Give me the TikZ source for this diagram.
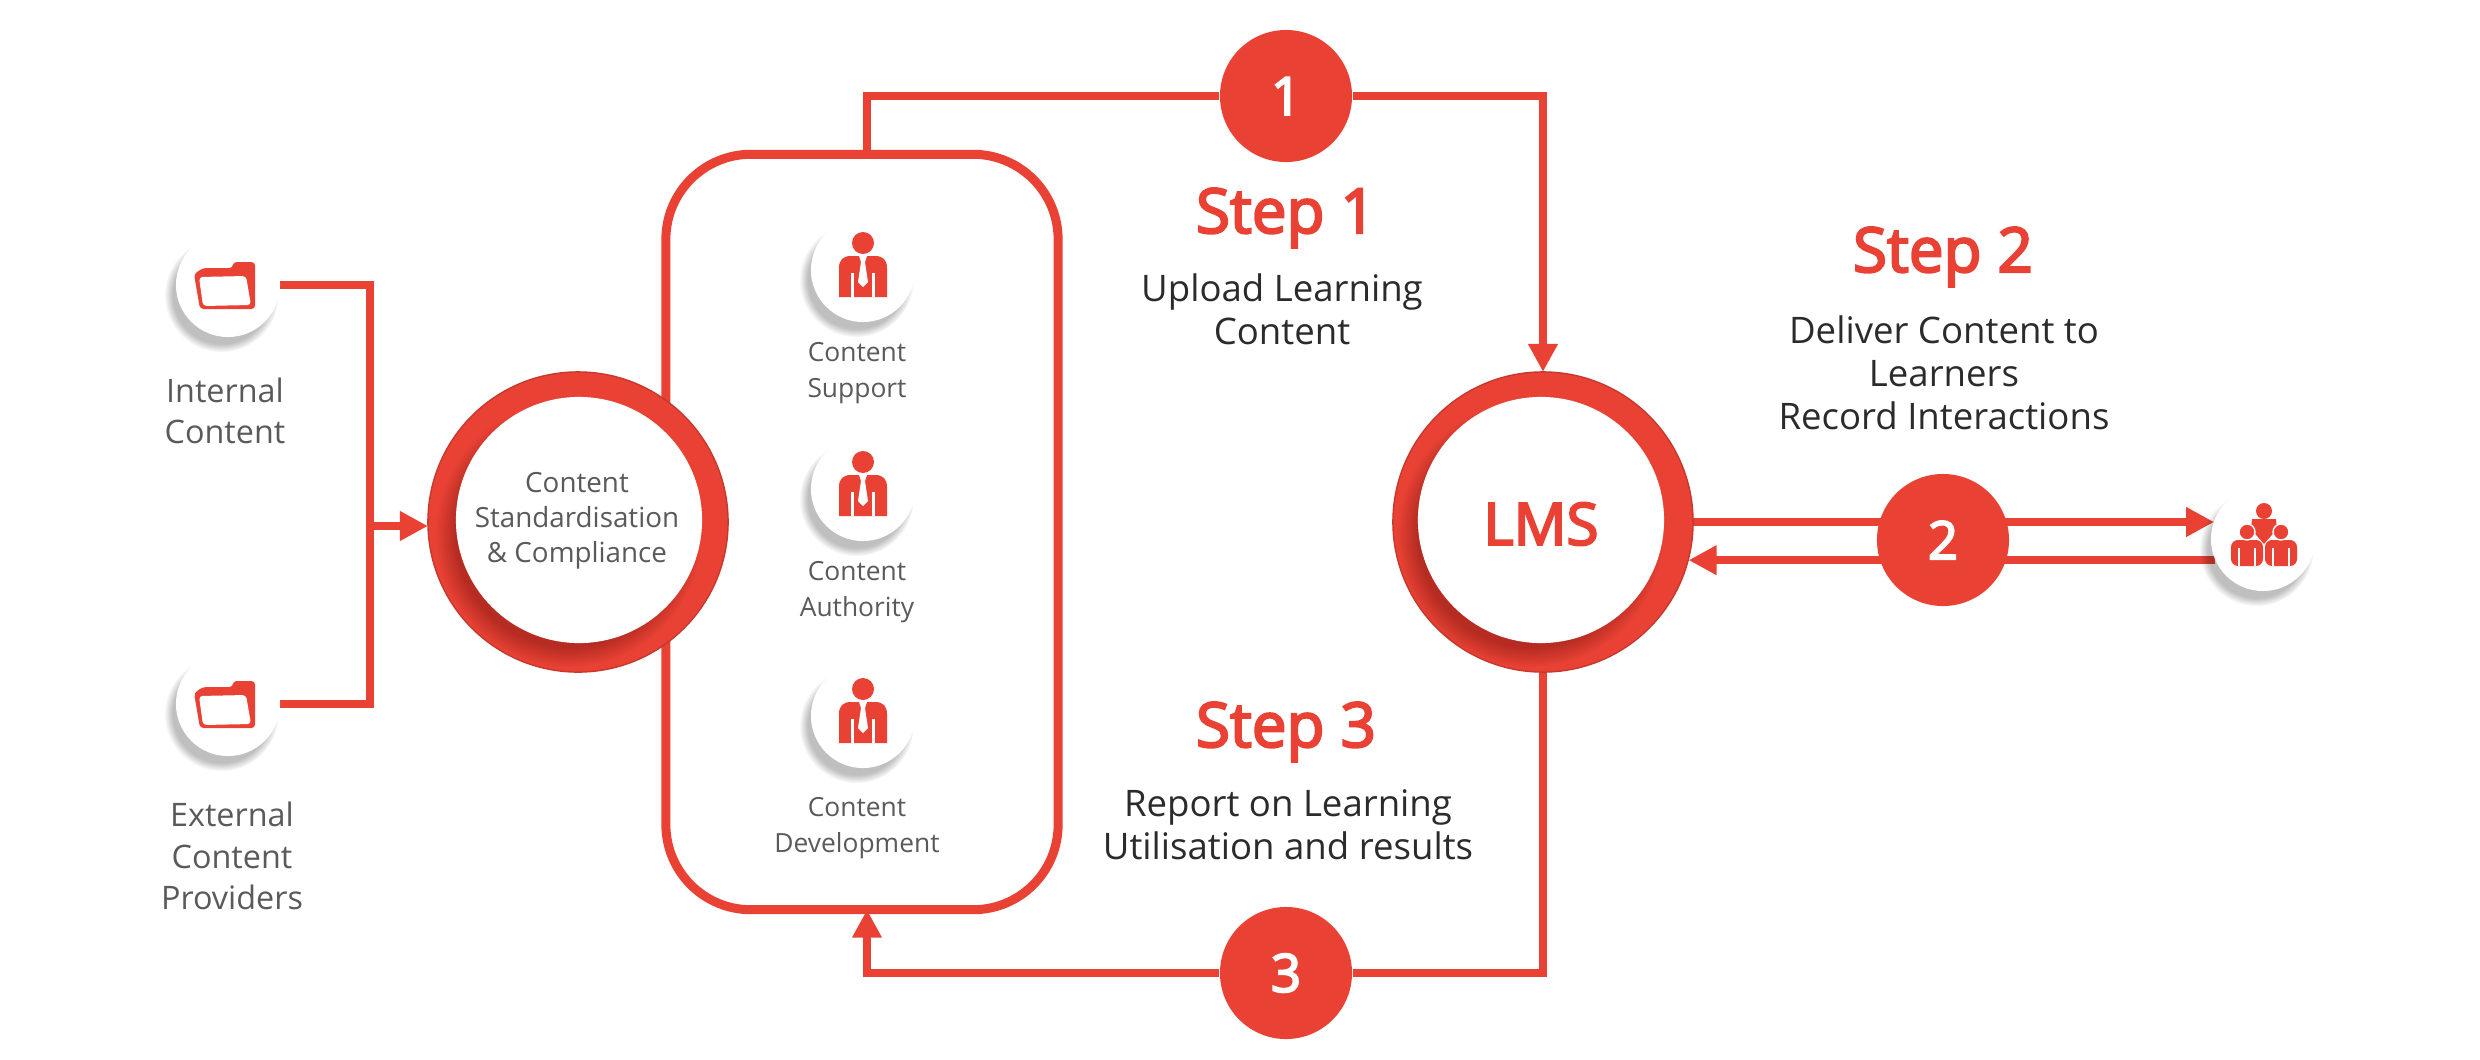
\documentclass[tikz,border=0pt]{standalone}
\usepackage{fontspec}
\setmainfont{Open Sans}
\newfontfamily\semifont[FakeBold=3.5]{Open Sans}
\usepackage{xcolor}
\usetikzlibrary{arrows.meta,positioning,shapes,calc,shadows,backgrounds}
\definecolor{lmsred}{HTML}{E94235}
\definecolor{deepred}{HTML}{A3241B}
\definecolor{softink}{HTML}{5A5A5A}
\definecolor{bodyink}{HTML}{2B2B2B}
\tikzset{
  flowline/.style={draw=lmsred,line width=0.085cm},
  flowarr/.style={flowline,-{Triangle[length=0.28cm,width=0.28cm]}},
  hubring/.style={circle,fill=lmsred,draw=lmsred!85!black,line width=0.4pt,
                  minimum size=3cm,inner sep=0pt,outer sep=0pt},
  hubface/.style={circle,fill=white,minimum size=2.46cm,inner sep=0pt,align=center,
                  circular drop shadow={shadow xshift=-0.1cm,shadow yshift=-0.13cm,
                                        shadow scale=1.08,fill=deepred,opacity=0.7}},
  iconface/.style={circle,fill=white,minimum size=1.04cm,inner sep=0pt,outer sep=0pt,
                   circular drop shadow={shadow xshift=-0.06cm,shadow yshift=-0.09cm,
                                         shadow scale=1.1,fill=black,opacity=0.25}},
  stepbadge/.style={circle,fill=lmsred,minimum size=1.32cm,inner sep=0pt,text=white,
                    font=\fontsize{15}{15}\semifont},
  steptitle/.style={text=lmsred,font=\fontsize{17.6}{20}\semifont},
  stepnote/.style={text=bodyink,align=center,font=\fontsize{10.4}{12.3}\selectfont},
  sidenote/.style={text=softink,align=center,font=\fontsize{9.2}{11.7}\selectfont},
  rolenote/.style={text=softink,align=center,font=\fontsize{7.5}{10.2}\selectfont},
  pics/foldericon/.style={code={
    \fill[lmsred,rounded corners=1pt] (-34,11)--(-25,17)--(5,17)--(5,23)--(27,23)--(27,-24)--(-28,-24)--cycle;
    \fill[white,rounded corners=1pt] (-29,8)--(18,9)--(23,-20)--(-25,-21)--cycle;
  }},
  pics/personicon/.style={code={
    \fill[lmsred] (0,27) circle (11);
    \fill[lmsred] (-24,-27)--(-24,2) .. controls (-24,10) and (-20,14) .. (-12,14)
      --(12,14) .. controls (20,14) and (24,10) .. (24,2)--(24,-27)--cycle;
    \fill[white] (-12,-27) rectangle (-9,-3);
    \fill[white] (9,-27) rectangle (12,-3);
    \fill[white] (-4,14)--(4,14)--(2,8)--(5,-12)--(0,-17)--(-5,-12)--(-2,8)--cycle;
  }},
  pics/groupicon/.style={code={
    \fill[lmsred] (1,28) circle (8);
    \fill[lmsred] (-11,20)--(13,20)--(14,10)--(1,-5)--(-12,10)--cycle;
    \fill[lmsred,rounded corners=2pt] (-32,-27)--(-32,-1)--(0,-1)--(0,-27)--cycle;
    \fill[lmsred,rounded corners=2pt] (2,-27)--(2,-1)--(34,-1)--(34,-27)--cycle;
    \fill[lmsred,draw=white,line width=0.4pt] (-16,7) circle (8);
    \fill[lmsred,draw=white,line width=0.4pt] (18,7) circle (8);
    \fill[white] (-25,-27) rectangle (-23,-9);
    \fill[white] (-9,-27) rectangle (-7,-9);
    \fill[white] (9,-27) rectangle (11,-9);
    \fill[white] (25,-27) rectangle (27,-9);
  }}
}
\begin{document}
\begin{tikzpicture}[x=0.01cm,y=0.01cm]
  \useasboundingbox (0,0) rectangle (2480,-1060);
  % roles box
  \node[draw=lmsred,line width=0.09cm,rounded corners=0.85cm,minimum width=3.92cm,
        minimum height=7.55cm,inner sep=0pt,outer sep=0pt] (rolebox) at (862,-532) {};
  \foreach \tag/\ypos/\noty/\lab in {support/270/373/{Content\\Support},authority/489/592/{Content\\Authority},development/716/828/{Content\\Development}} {
    \node[iconface] (role\tag) at (863,-\ypos) {};
    \pic at (role\tag) {personicon};
    \node[rolenote] (note\tag) at (857,-\noty) {\lab};
  }
  % left sources
  \node[iconface] (folderint) at (228,-285) {};
  \pic at (folderint) {foldericon};
  \node[iconface] (folderext) at (228,-704) {};
  \pic at (folderext) {foldericon};
  \node[sidenote] (noteint) at (225,-411) {Internal\\Content};
  \node[sidenote] (noteext) at (232,-856) {External\\Content\\Providers};
  % hubs
  \node[hubring] (stdring) at (578,-522) {};
  \node[hubface] (stdface) at (579,-520) {};
  \node[text=softink,align=center,font=\fontsize{7.9}{9.9}\selectfont] (stdnote) at (577,-521) {Content\\Standardisation\\\& Compliance};
  \node[hubring] (lmsring) at (1543,-522) {};
  \node[hubface] (lmsface) at (1541,-520) {};
  \node[text=lmsred,font=\fontsize{16.6}{20}\semifont] (lmsnote) at (1541,-524) {LMS};
  % learners and badges
  \node[iconface] (learners) at (2263,-539) {};
  \pic at (learners) {groupicon};
  \node[stepbadge] (badgeone) at (1286,-96) {1};
  \node[stepbadge] (badgetwo) at (1943,-540) {2};
  \node[stepbadge] (badgethree) at (1286,-973) {3};
  % captions
  \node[steptitle] (titleone) at (1286,-218) {Step 1};
  \node[stepnote] (noteone) at (1282,-309) {Upload Learning\\Content};
  \node[steptitle] (titletwo) at (1943,-257) {Step 2};
  \node[stepnote] (notetwo) at (1944,-373) {Deliver Content to\\Learners\\Record Interactions};
  \node[steptitle] (titlethree) at (1286,-732) {Step 3};
  \node[stepnote] (notethree) at (1288,-825) {Report on Learning\\Utilisation and results};
  % connectors
  \coordinate (merge) at (370,-526);
  \coordinate (boxout) at ($(rolebox.north)+(5,0)$);
  \coordinate (boxin) at ($(rolebox.south)+(5,0)$);
  \begin{scope}[on background layer]
    \draw[flowline] (folderint.east) -| (merge);
    \draw[flowline] (folderext.east) -| (merge);
    \draw[flowarr] (merge) -- (merge -| stdring.west);
    \draw[flowarr] (boxout) |- (badgeone) -| (lmsring.north);
    \draw[flowarr] (lmsring.south) |- (badgethree) -| (boxin);
    \draw[flowarr] (lmsring.east) -- (lmsring.east -| learners.160);
    \draw[flowarr] (learners.204) -- (learners.204 -| lmsring.-14.7);
  \end{scope}
\end{tikzpicture}
\end{document}
